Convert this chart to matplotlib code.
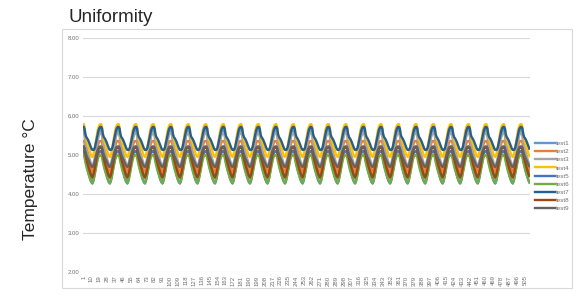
import numpy as np
import matplotlib.pyplot as plt
from matplotlib.patches import Rectangle

plt.rcParams["font.family"] = ["Liberation Sans", "DejaVu Sans"]

# one measured cycle per series (20 samples, starting at the peak)
test1 = [5.66, 5.58, 5.38, 5.22, 5.08, 4.95, 4.82, 4.70, 4.58, 4.47, 4.40, 4.48, 4.62, 4.80, 5.00, 5.20, 5.38, 5.52, 5.62, 5.66]
test2 = [5.36, 5.32, 5.18, 5.05, 4.96, 4.88, 4.80, 4.72, 4.66, 4.61, 4.58, 4.63, 4.72, 4.84, 4.97, 5.10, 5.22, 5.30, 5.35, 5.36]
test3 = [5.56, 5.50, 5.34, 5.22, 5.13, 5.05, 4.97, 4.89, 4.81, 4.75, 4.72, 4.76, 4.85, 4.97, 5.11, 5.25, 5.38, 5.48, 5.54, 5.56]
test4 = [5.79, 5.72, 5.54, 5.42, 5.34, 5.26, 5.18, 5.10, 5.02, 4.97, 4.95, 4.99, 5.08, 5.22, 5.37, 5.51, 5.63, 5.71, 5.77, 5.79]
test5 = [5.10, 5.04, 4.90, 4.78, 4.68, 4.59, 4.50, 4.42, 4.35, 4.30, 4.27, 4.33, 4.44, 4.57, 4.71, 4.84, 4.96, 5.04, 5.08, 5.10]
test6 = [5.00, 4.94, 4.82, 4.72, 4.63, 4.55, 4.48, 4.41, 4.35, 4.30, 4.28, 4.33, 4.42, 4.53, 4.65, 4.77, 4.88, 4.95, 4.99, 5.00]
test7 = [5.72, 5.68, 5.53, 5.46, 5.43, 5.39, 5.34, 5.28, 5.22, 5.16, 5.13, 5.13, 5.14, 5.20, 5.31, 5.43, 5.54, 5.63, 5.69, 5.72]
test8 = [5.20, 5.15, 5.02, 4.91, 4.82, 4.74, 4.66, 4.58, 4.51, 4.46, 4.43, 4.48, 4.57, 4.68, 4.81, 4.94, 5.06, 5.14, 5.18, 5.20]
test9 = [5.22, 5.19, 5.09, 5.01, 4.95, 4.90, 4.85, 4.80, 4.75, 4.71, 4.69, 4.72, 4.78, 4.86, 4.95, 5.05, 5.13, 5.18, 5.21, 5.22]

series_names = ["test1", "test2", "test3", "test4", "test5", "test6", "test7", "test8", "test9"]
series_cycles = [test1, test2, test3, test4, test5, test6, test7, test8, test9]
colors = ["#5B9BD5", "#ED7D31", "#A5A5A5", "#FFC000", "#4472C4",
          "#70AD47", "#255E91", "#9E480E", "#636363"]

n_points = 510
categories = np.arange(1, n_points + 1)
tick_labels = [str(c) for c in categories[::9]]

fig = plt.figure(figsize=(5.81, 2.99), dpi=100)

# chart area border
fig.patches.append(Rectangle((62 / 581, 1 - 288 / 299), (572 - 62) / 581, (288 - 29) / 299,
                             transform=fig.transFigure, fill=False,
                             edgecolor="#D9D9D9", linewidth=0.8))

ax = fig.add_axes([83 / 581, 1 - 272 / 299, (530 - 83) / 581, (272 - 38) / 299])

for name, cyc, col in zip(series_names, series_cycles, colors):
    reps = int(np.ceil(n_points / len(cyc)))
    y = np.tile(cyc, reps)[:n_points]
    ax.plot(categories, y, color=col, linewidth=1.7, label=name)

ax.set_ylim(2, 8)
ax.set_xlim(0.3, n_points + 0.7)
ax.set_yticks(np.arange(2, 8.01, 1))
ax.set_yticklabels([f"{v:.2f}" for v in np.arange(2, 8.01, 1)], fontsize=4.3, color="#6F6F6F")
ax.set_xticks(categories[::9])
ax.set_xticklabels(tick_labels, rotation=90, fontsize=4.3, color="#6F6F6F")
ax.tick_params(length=0, pad=2.5)
ax.grid(axis="y", color="#D9D9D9", linewidth=0.8)
ax.set_axisbelow(True)
for s in ax.spines.values():
    s.set_visible(False)

fig.text(68 / 581, 1 - 17 / 299, "Uniformity", fontsize=13.5, color="#262626",
         va="center", ha="left")
fig.text(30 / 581, 1 - 179 / 299, "Temperature °C", fontsize=12.5, color="#262626",
         rotation=90, va="center", ha="center")

ax.legend(loc="center left", bbox_to_anchor=(1.0, 0.41), frameon=False,
          fontsize=4.5, handlelength=3.2, labelspacing=0.45, handletextpad=0.2,
          borderaxespad=0.4, labelcolor="#6F6F6F")

fig.savefig("out.png", dpi=100)
